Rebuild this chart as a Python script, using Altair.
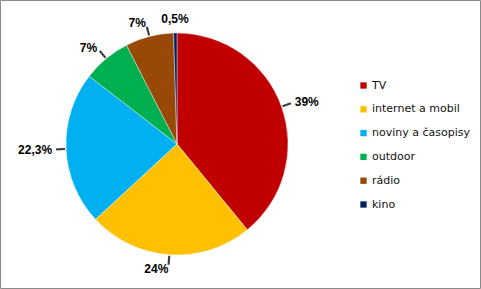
import altair as alt
import pandas as pd

categories = ["TV", "internet a mobil", "noviny a časopisy", "outdoor", "rádio", "kino"]
values = [39, 24, 22.3, 7, 7, 0.5]
labels = ["39%", "24%", "22,3%", "7%", "7%", "0,5%"]
colors = ["#C00000", "#FFC000", "#00B0F0", "#00B050", "#984807", "#002060"]

total = sum(values)
df = pd.DataFrame({"cat": categories, "value": values, "label": labels,
                   "idx": list(range(len(categories)))})

CX, CY, R = 177, 144, 111

base = alt.Chart(df).transform_window(
    cum="sum(value)", sort=[alt.SortField("idx")], frame=[None, 0]
).transform_calculate(
    start="datum.cum - datum.value",
    mid="datum.cum - datum.value / 2",
    t1="datum.cum - datum.value / 2 - 0.15",
    t2="datum.cum - datum.value / 2 + 0.15",
)

tscale = alt.Scale(domain=[0, total])

frame = alt.Chart(df).mark_rect(fill=None, stroke="#8a8a8a", strokeWidth=1).encode(
    x=alt.value(0.5), x2=alt.value(480.5), y=alt.value(0.5), y2=alt.value(288.5)
).transform_filter("datum.idx == 0")

pie = base.mark_arc(stroke="white", strokeWidth=0.4).encode(
    theta=alt.Theta("start:Q", scale=tscale, stack=None),
    theta2="cum:Q",
    radius=alt.value(R),
    x=alt.value(CX), y=alt.value(CY),
    color=alt.Color("cat:N", scale=alt.Scale(domain=categories, range=colors),
                    sort=categories,
                    legend=alt.Legend(title=None, orient="none", legendX=358, legendY=80,
                                      symbolType="square", symbolSize=40, symbolStrokeWidth=0,
                                      labelFont="DejaVu Sans", labelFontSize=11,
                                      labelColor="#111", rowPadding=11.8, labelOffset=3)),
)

ticks = base.transform_filter("datum.value >= 1").mark_arc(color="#404040").encode(
    theta=alt.Theta("t1:Q", scale=tscale, stack=None),
    theta2="t2:Q",
    radius=alt.value(R + 1), radius2=alt.value(R + 10),
    x=alt.value(CX), y=alt.value(CY),
)

def label_layer(cond, align):
    return base.transform_filter(cond).mark_text(
        align=align, baseline="middle", font="Liberation Sans", fontWeight="bold",
        fontSize=12, color="#000"
    ).encode(
        theta=alt.Theta("mid:Q", scale=tscale, stack=None),
        radius=alt.value(R + 14),
        x=alt.value(CX), y=alt.value(CY),
        text="label:N",
    )

half = total / 2
right_labels = label_layer(f"datum.mid < {half}", "left")
left_labels = label_layer(f"datum.mid >= {half} && datum.value >= 1", "right")
top_labels = label_layer("datum.value < 1", "center")

chart = alt.layer(frame, pie, ticks, right_labels, left_labels, top_labels).properties(
    width=481, height=289,
    autosize=alt.AutoSizeParams(type="fit", contains="padding"),
    padding=0,
).configure_view(stroke=None).configure(background="white")

chart.save("out.html", embed_options={"renderer": "svg", "actions": False})
